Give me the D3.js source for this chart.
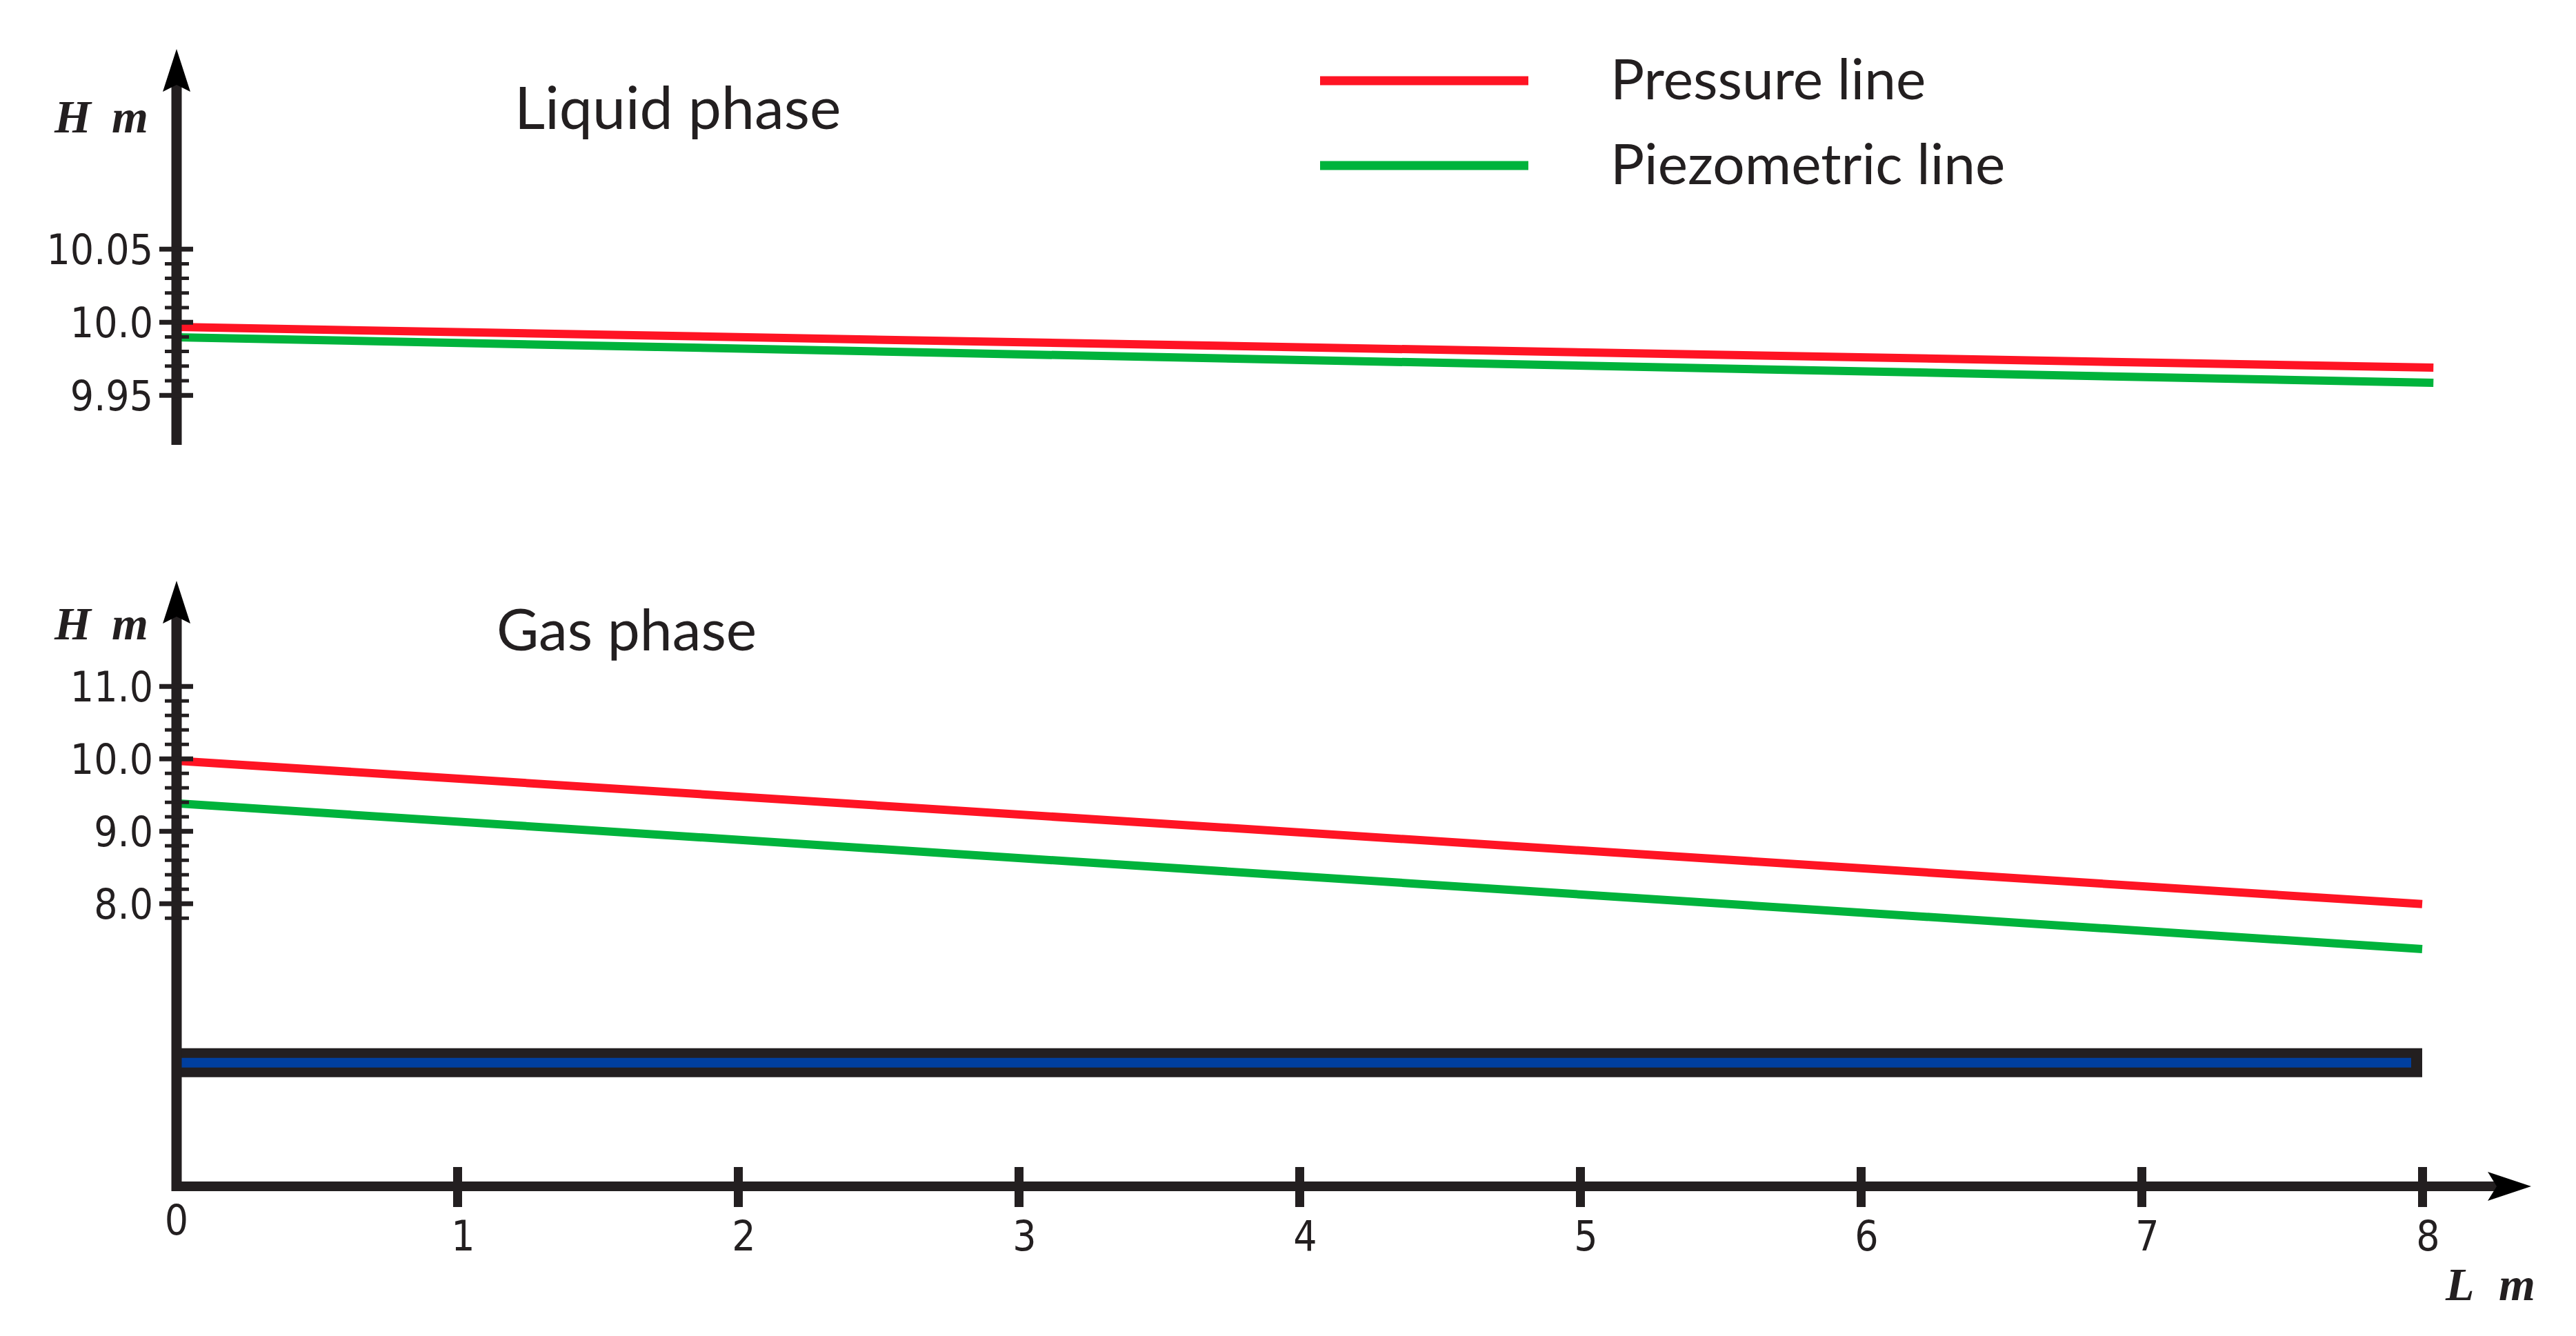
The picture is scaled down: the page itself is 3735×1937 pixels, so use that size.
<!DOCTYPE html>
<html lang="en">
<head>
<meta charset="utf-8">
<title>Pressure and piezometric lines</title>
<script src="https://cdn.jsdelivr.net/npm/d3@7"></script>
<style>
  body { margin: 0; background: #fff; }
  .tick-label { font-family: "Liberation Sans Narrow", "DejaVu Sans Condensed", "Roboto Condensed", sans-serif; font-stretch: condensed; fill: #231f20; }
  .title { font-family: Lato, "Open Sans", sans-serif; fill: #231f20; }
  .unit { font-family: "Liberation Serif", "DejaVu Serif", serif; font-style: italic; font-weight: bold; fill: #231f20; }
</style>
</head>
<body>
<div class="chart"></div>
<script>
// length along the pipe (m) and heads (m)
const liquidL = [0, 8.04];
const liquidPressure = [9.9965, 9.9687];
const liquidPiezo = [9.9895, 9.9583];

const gasL = [0, 8];
const gasPressure = [9.97, 7.99];
const gasPiezo = [9.38, 7.37];

const pipeL = [0, 8];
const pipeH = 5.8;

const xTicks = [0, 1, 2, 3, 4, 5, 6, 7, 8];
const liquidTicks = [9.95, 10.0, 10.05];
const liquidTickLabels = ["9.95", "10.0", "10.05"];
const liquidMinor = d3.range(995, 1006).map(d => d / 100);
const gasTicks = [8, 9, 10, 11];
const gasTickLabels = ["8.0", "9.0", "10.0", "11.0"];
const gasMinor = d3.range(39, 56).map(d => d / 5);

const legendNames = ["Pressure line", "Piezometric line"];
const colors = { pressure: "#ff1424", piezo: "#00b33c", ink: "#231f20", water: "#003f9f" };

const width = 3735, height = 1937;
const axisX = 256;

const svg = d3.select(".chart").append("svg")
    .attr("width", width)
    .attr("height", height);

const x = d3.scaleLinear().domain([0, 8]).range([axisX, 3512]);
const yLiquid = d3.scaleLinear().domain([9.95, 10.05]).range([572.7, 360.7]);
const yGas = d3.scaleLinear().domain([8, 11]).range([1309.75, 994.75]);

/* pipe */
const pipe = svg.append("g");
pipe.append("rect")
    .attr("x", x(pipeL[0]))
    .attr("y", yGas(pipeH) - 21)
    .attr("width", x(pipeL[1]) - x(pipeL[0]))
    .attr("height", 42)
    .attr("fill", colors.ink);
pipe.append("rect")
    .attr("x", x(pipeL[0]))
    .attr("y", yGas(pipeH) - 7)
    .attr("width", x(pipeL[1]) - x(pipeL[0]) - 16)
    .attr("height", 14)
    .attr("fill", colors.water);

/* head lines */
function drawLine(L, H, y, color) {
    const pts = L.map((d, i) => [d, H[i]]);
    svg.append("path")
        .datum(pts)
        .attr("fill", "none")
        .attr("stroke", color)
        .attr("stroke-width", 12)
        .attr("d", d3.line().x(d => x(d[0])).y(d => y(d[1])));
}
drawLine(liquidL, liquidPressure, yLiquid, colors.pressure);
drawLine(liquidL, liquidPiezo, yLiquid, colors.piezo);
drawLine(gasL, gasPressure, yGas, colors.pressure);
drawLine(gasL, gasPiezo, yGas, colors.piezo);

/* vertical axes with arrow */
function vArrow(top, bottom) {
    svg.append("line")
        .attr("x1", axisX).attr("x2", axisX)
        .attr("y1", bottom).attr("y2", top + 50)
        .attr("stroke", colors.ink).attr("stroke-width", 15);
    svg.append("path")
        .attr("d", `M${axisX},${top} L${axisX - 20},${top + 62} L${axisX},${top + 52} L${axisX + 20},${top + 62} Z`)
        .attr("fill", "#000");
}
vArrow(71, 645);
vArrow(842, 1727);

function yTicks(scale, major, labels, minor) {
    const gMinor = svg.append("g")
        .attr("transform", `translate(${axisX + 18},0)`)
        .call(d3.axisLeft(scale).tickValues(minor).tickSize(35).tickFormat(""));
    gMinor.select(".domain").remove();
    gMinor.selectAll(".tick line").attr("stroke", colors.ink).attr("stroke-width", 5);

    const gMajor = svg.append("g")
        .attr("transform", `translate(${axisX + 24},0)`)
        .call(d3.axisLeft(scale).tickValues(major).tickSize(49).tickPadding(9)
            .tickFormat((d, i) => labels[i]));
    gMajor.select(".domain").remove();
    gMajor.selectAll(".tick line").attr("stroke", colors.ink).attr("stroke-width", 7);
    gMajor.selectAll(".tick text")
        .attr("class", "tick-label")
        .attr("font-size", 60)
        .attr("dy", "0.36em");
}
yTicks(yLiquid, liquidTicks, liquidTickLabels, liquidMinor);
yTicks(yGas, gasTicks, gasTickLabels, gasMinor);

/* horizontal axis */
const xAxisY = 1720;
svg.append("line")
    .attr("x1", axisX - 7).attr("x2", 3625)
    .attr("y1", xAxisY).attr("y2", xAxisY)
    .attr("stroke", colors.ink).attr("stroke-width", 14);
svg.append("path")
    .attr("d", `M3670,${xAxisY} L3607,${xAxisY - 21} L3620,${xAxisY} L3607,${xAxisY + 21} Z`)
    .attr("fill", "#000");

const gx = svg.append("g")
    .attr("transform", `translate(0,${xAxisY - 28})`)
    .call(d3.axisBottom(x).tickValues(xTicks.slice(1)).tickSize(58).tickFormat(d3.format("d")));
gx.select(".domain").remove();
gx.selectAll(".tick line").attr("stroke", colors.ink).attr("stroke-width", 13);
gx.selectAll(".tick text")
    .attr("class", "tick-label")
    .attr("font-size", 60)
    .attr("y", 121).attr("dy", 0).attr("dx", 8);

// the 0 sits a bit higher, under the corner
svg.append("text")
    .attr("class", "tick-label")
    .attr("x", x(xTicks[0]))
    .attr("y", 1790)
    .attr("font-size", 60)
    .attr("text-anchor", "middle")
    .text(xTicks[0]);

/* axis names */
function unitLabel(xh, xm, yb, letter) {
    const t = svg.append("text").attr("class", "unit").attr("y", yb).attr("font-size", 68);
    t.append("tspan").attr("x", xh).text(letter);
    t.append("tspan").attr("x", xm).text("m");
}
unitLabel(79, 162, 192, "H");
unitLabel(79, 162, 927, "H");
unitLabel(3546, 3623, 1885, "L");

/* titles */
svg.append("text").attr("class", "title")
    .attr("x", 746).attr("y", 187).attr("font-size", 86)
    .text("Liquid phase");
svg.append("text").attr("class", "title")
    .attr("x", 720).attr("y", 943).attr("font-size", 84)
    .text("Gas phase");

/* legend */
const legend = svg.append("g");
const legendColors = [colors.pressure, colors.piezo];
legendNames.forEach((name, i) => {
    const ly = 117 + i * 123;
    legend.append("line")
        .attr("x1", 1914).attr("x2", 2216)
        .attr("y1", ly).attr("y2", ly)
        .attr("stroke", legendColors[i]).attr("stroke-width", 13);
    legend.append("text").attr("class", "title")
        .attr("x", 2335).attr("y", ly + 27)
        .attr("font-size", 82)
        .text(name);
});
</script>
</body>
</html>
